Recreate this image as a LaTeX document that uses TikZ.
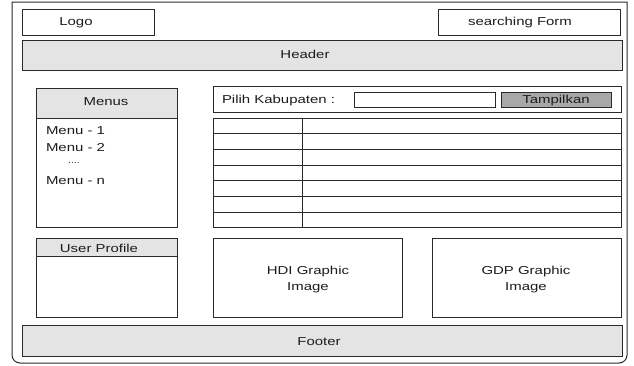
\documentclass[tikz,border=0pt]{standalone}
\usepackage{fontspec}
\setmainfont[FakeStretch=1.3]{Liberation Sans}
\definecolor{edge}{HTML}{2A2A2A}
\definecolor{band}{HTML}{E4E4E4}
\definecolor{btn}{HTML}{A8A8A8}
\definecolor{ink}{HTML}{1C1C1C}
\begin{document}
\begin{tikzpicture}[x=1pt,y=-1pt,
  every node/.style={inner sep=0pt, outer sep=0pt, text=ink, font=\fontsize{11.5}{16}\selectfont},
  box/.style={draw=edge, line width=1pt, fill=white, rectangle, anchor=north west},
  shaded/.style={box, fill=band},
  lbl/.style={align=center, yshift=-1.5pt}]
\useasboundingbox (0,0) rectangle (634,365);
% outer page frame, rounded at the bottom
\draw[edge, line width=1pt] (12,2) -- (12,355) arc[start angle=180, end angle=270, radius=8pt]
  -- (619,363) arc[start angle=270, end angle=360, radius=8pt] -- (627,2) -- cycle;

% top bar
\node[box, minimum width=132pt, minimum height=26pt] (logo) at (22,9) {};
\node[lbl] (logot) at (76,21.5) {Logo};
\node[box, minimum width=182pt, minimum height=26pt] (search) at (438,9) {};
\node[lbl] (searcht) at (520,21.5) {searching Form};
\node[shaded, minimum width=600pt, minimum height=30pt] (header) at (22,40) {};
\node[lbl] (headert) at (305,53) {Header};

% menu panel
\node[box, minimum width=141pt, minimum height=139pt] (menus) at (36,88) {};
\node[shaded, minimum width=141pt, minimum height=30pt] (menush) at (36,88) {};
\node[lbl] (menust) at (106,100) {Menus};
\node[lbl, anchor=west] (m1) at (46,129) {Menu - 1};
\node[lbl, anchor=west] (m2) at (46,146) {Menu - 2};
\node[font=\fontsize{8}{10}\selectfont] (mdots) at (74,163) {....};
\node[lbl, anchor=west] (mn) at (46,179) {Menu - n};

% selection row
\node[box, minimum width=408pt, minimum height=26pt] (pilih) at (213,86) {};
\node[lbl, anchor=west] (piliht) at (222,99) {Pilih Kabupaten :};
\node[box, minimum width=141pt, minimum height=15pt] (input) at (354,92) {};
\node[box, fill=btn, minimum width=110pt, minimum height=15pt] (tampil) at (501,92) {};
\node[lbl] (tampilt) at (556,99.5) {Tampilkan};

% data table
\node[box, minimum width=408pt, minimum height=109pt] (tbl) at (213,118) {};
\foreach \yy in {133,149,165,180,196,212}
  \draw[edge, line width=1pt] (tbl.west |- 0,\yy) -- (tbl.east |- 0,\yy);
\draw[edge, line width=1pt] (302,118) -- (302,227);

% user profile
\node[box, minimum width=141pt, minimum height=79pt] (user) at (36,238) {};
\node[shaded, minimum width=141pt, minimum height=18pt] (userh) at (36,238) {};
\node[lbl] (usert) at (99,247) {User Profile};

% graphics
\node[box, minimum width=189pt, minimum height=79pt] (hdi) at (213,238) {};
\node[lbl] (hdit) at (308,278) {HDI Graphic\\Image};
\node[box, minimum width=189pt, minimum height=79pt] (gdp) at (432,238) {};
\node[lbl] (gdpt) at (526,278) {GDP Graphic\\Image};

% footer
\node[shaded, minimum width=600pt, minimum height=31pt] (footer) at (22,325) {};
\node[lbl] (footert) at (319,340) {Footer};
\end{tikzpicture}
\end{document}
